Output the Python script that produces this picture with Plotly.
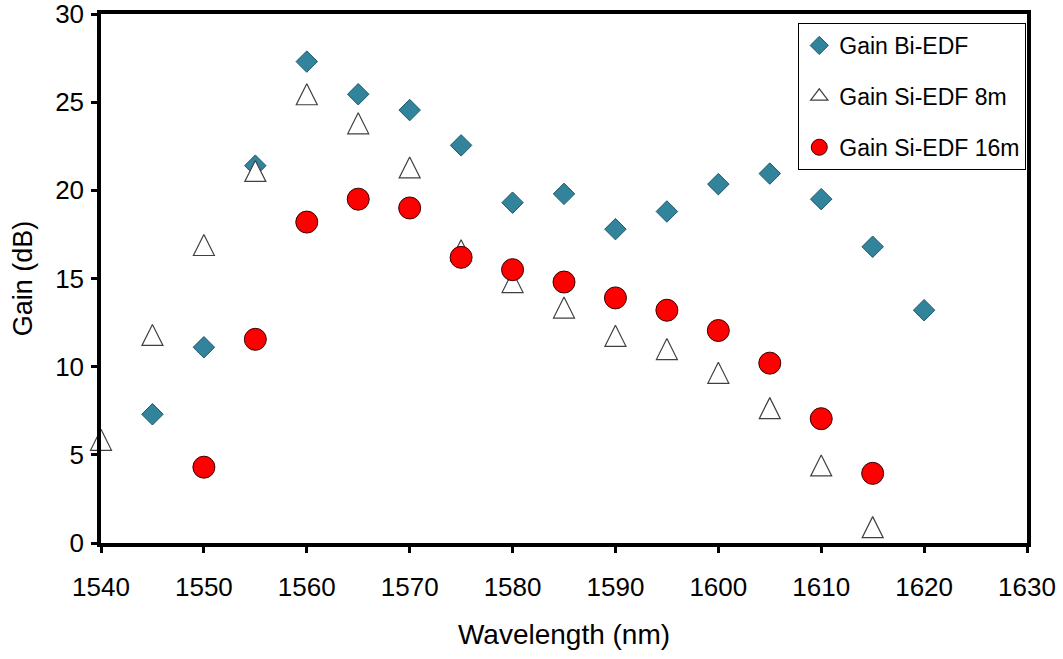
import plotly.graph_objects as go

# Wavelength grids (nm) and measured gain (dB)
wl_bi = [1545, 1550, 1555, 1560, 1565, 1570, 1575, 1580, 1585, 1590, 1595, 1600, 1605, 1610, 1615, 1620]
gain_bi = [7.3, 11.1, 21.4, 27.3, 25.45, 24.55, 22.55, 19.3, 19.8, 17.8, 18.8, 20.35, 20.95, 19.5, 16.8, 13.2]

wl_si8 = [1540, 1545, 1550, 1555, 1560, 1565, 1570, 1575, 1580, 1585, 1590, 1595, 1600, 1605, 1610, 1615]
gain_si8 = [5.85, 11.8, 16.9, 21.1, 25.45, 23.8, 21.3, 16.6, 14.8, 13.35, 11.75, 11.0, 9.65, 7.65, 4.4, 0.9]

wl_si16 = [1550, 1555, 1560, 1565, 1570, 1575, 1580, 1585, 1590, 1595, 1600, 1605, 1610, 1615]
gain_si16 = [4.3, 11.55, 18.2, 19.5, 19.0, 16.2, 15.5, 14.8, 13.9, 13.2, 12.05, 10.2, 7.05, 3.95]

x_ticks = [1540, 1550, 1560, 1570, 1580, 1590, 1600, 1610, 1620, 1630]
y_ticks = [0, 5, 10, 15, 20, 25, 30]

FONT = "Liberation Sans, Arial, sans-serif"

# Open triangle: an arrow-down glyph flipped upward and pushed back by half its
# height, so the triangle is centred on the data point and as tall as it is wide.
TRI_SIZE = 21

fig = go.Figure()

series = [
    ("Gain Bi-EDF", wl_bi, gain_bi,
     dict(symbol="diamond", size=16.5, color="#31849B", line=dict(color="#1f5866", width=1)),
     dict(symbol="diamond", size=14, color="#31849B", line=dict(color="#1f5866", width=1))),
    ("Gain Si-EDF 8m", wl_si8, gain_si8,
     dict(symbol="arrow-down", angle=180, standoff=TRI_SIZE / 2, size=TRI_SIZE,
          color="white", line=dict(color="#404040", width=1.2)),
     dict(symbol="triangle-up", size=15, color="white", line=dict(color="#404040", width=1.2))),
    ("Gain Si-EDF 16m", wl_si16, gain_si16,
     dict(symbol="circle", size=22, color="#FF0000", line=dict(color="#3a0000", width=1)),
     dict(symbol="circle", size=16, color="#FF0000", line=dict(color="#3a0000", width=1))),
]

for i, (name, xs, ys, mk, legend_mk) in enumerate(series):
    fig.add_trace(go.Scatter(
        x=xs, y=ys, mode="markers", name=name, marker=mk,
        cliponaxis=False, legendgroup=f"g{i}", showlegend=False,
    ))
    # legend entry with its own (smaller, centred) symbol
    fig.add_trace(go.Scatter(
        x=[None], y=[None], mode="markers", name=name, marker=legend_mk,
        legendgroup=f"g{i}", showlegend=True,
    ))

axis_common = dict(
    showgrid=False, zeroline=False, automargin=False,
    showline=True, linecolor="black", linewidth=3.5, mirror=True,
    ticks="outside", ticklen=6, tickwidth=3, tickcolor="black",
    ticklabeloverflow="allow",
    tickfont=dict(family=FONT, size=26, color="black"),
)

fig.update_layout(
    width=1063, height=659,
    margin=dict(l=101, r=36, t=14, b=116),
    paper_bgcolor="white", plot_bgcolor="white",
    font=dict(family=FONT, color="black"),
    showlegend=True,
    legend=dict(
        x=0.753, y=0.983, xanchor="left", yanchor="top",
        bgcolor="white", bordercolor="black", borderwidth=1,
        font=dict(family=FONT, size=23, color="black"),
        tracegroupgap=18, traceorder="grouped",
    ),
    xaxis=dict(
        range=[1540, 1630], tickvals=x_ticks,
        ticklabelstandoff=12,
        title=dict(text="Wavelength (nm)", font=dict(family=FONT, size=28), standoff=24),
        **axis_common,
    ),
    yaxis=dict(
        range=[0, 30], tickvals=y_ticks,
        ticklabelstandoff=2,
        title=dict(text="Gain (dB)", font=dict(family=FONT, size=27), standoff=16),
        **axis_common,
    ),
)

fig.write_html("out.html")
